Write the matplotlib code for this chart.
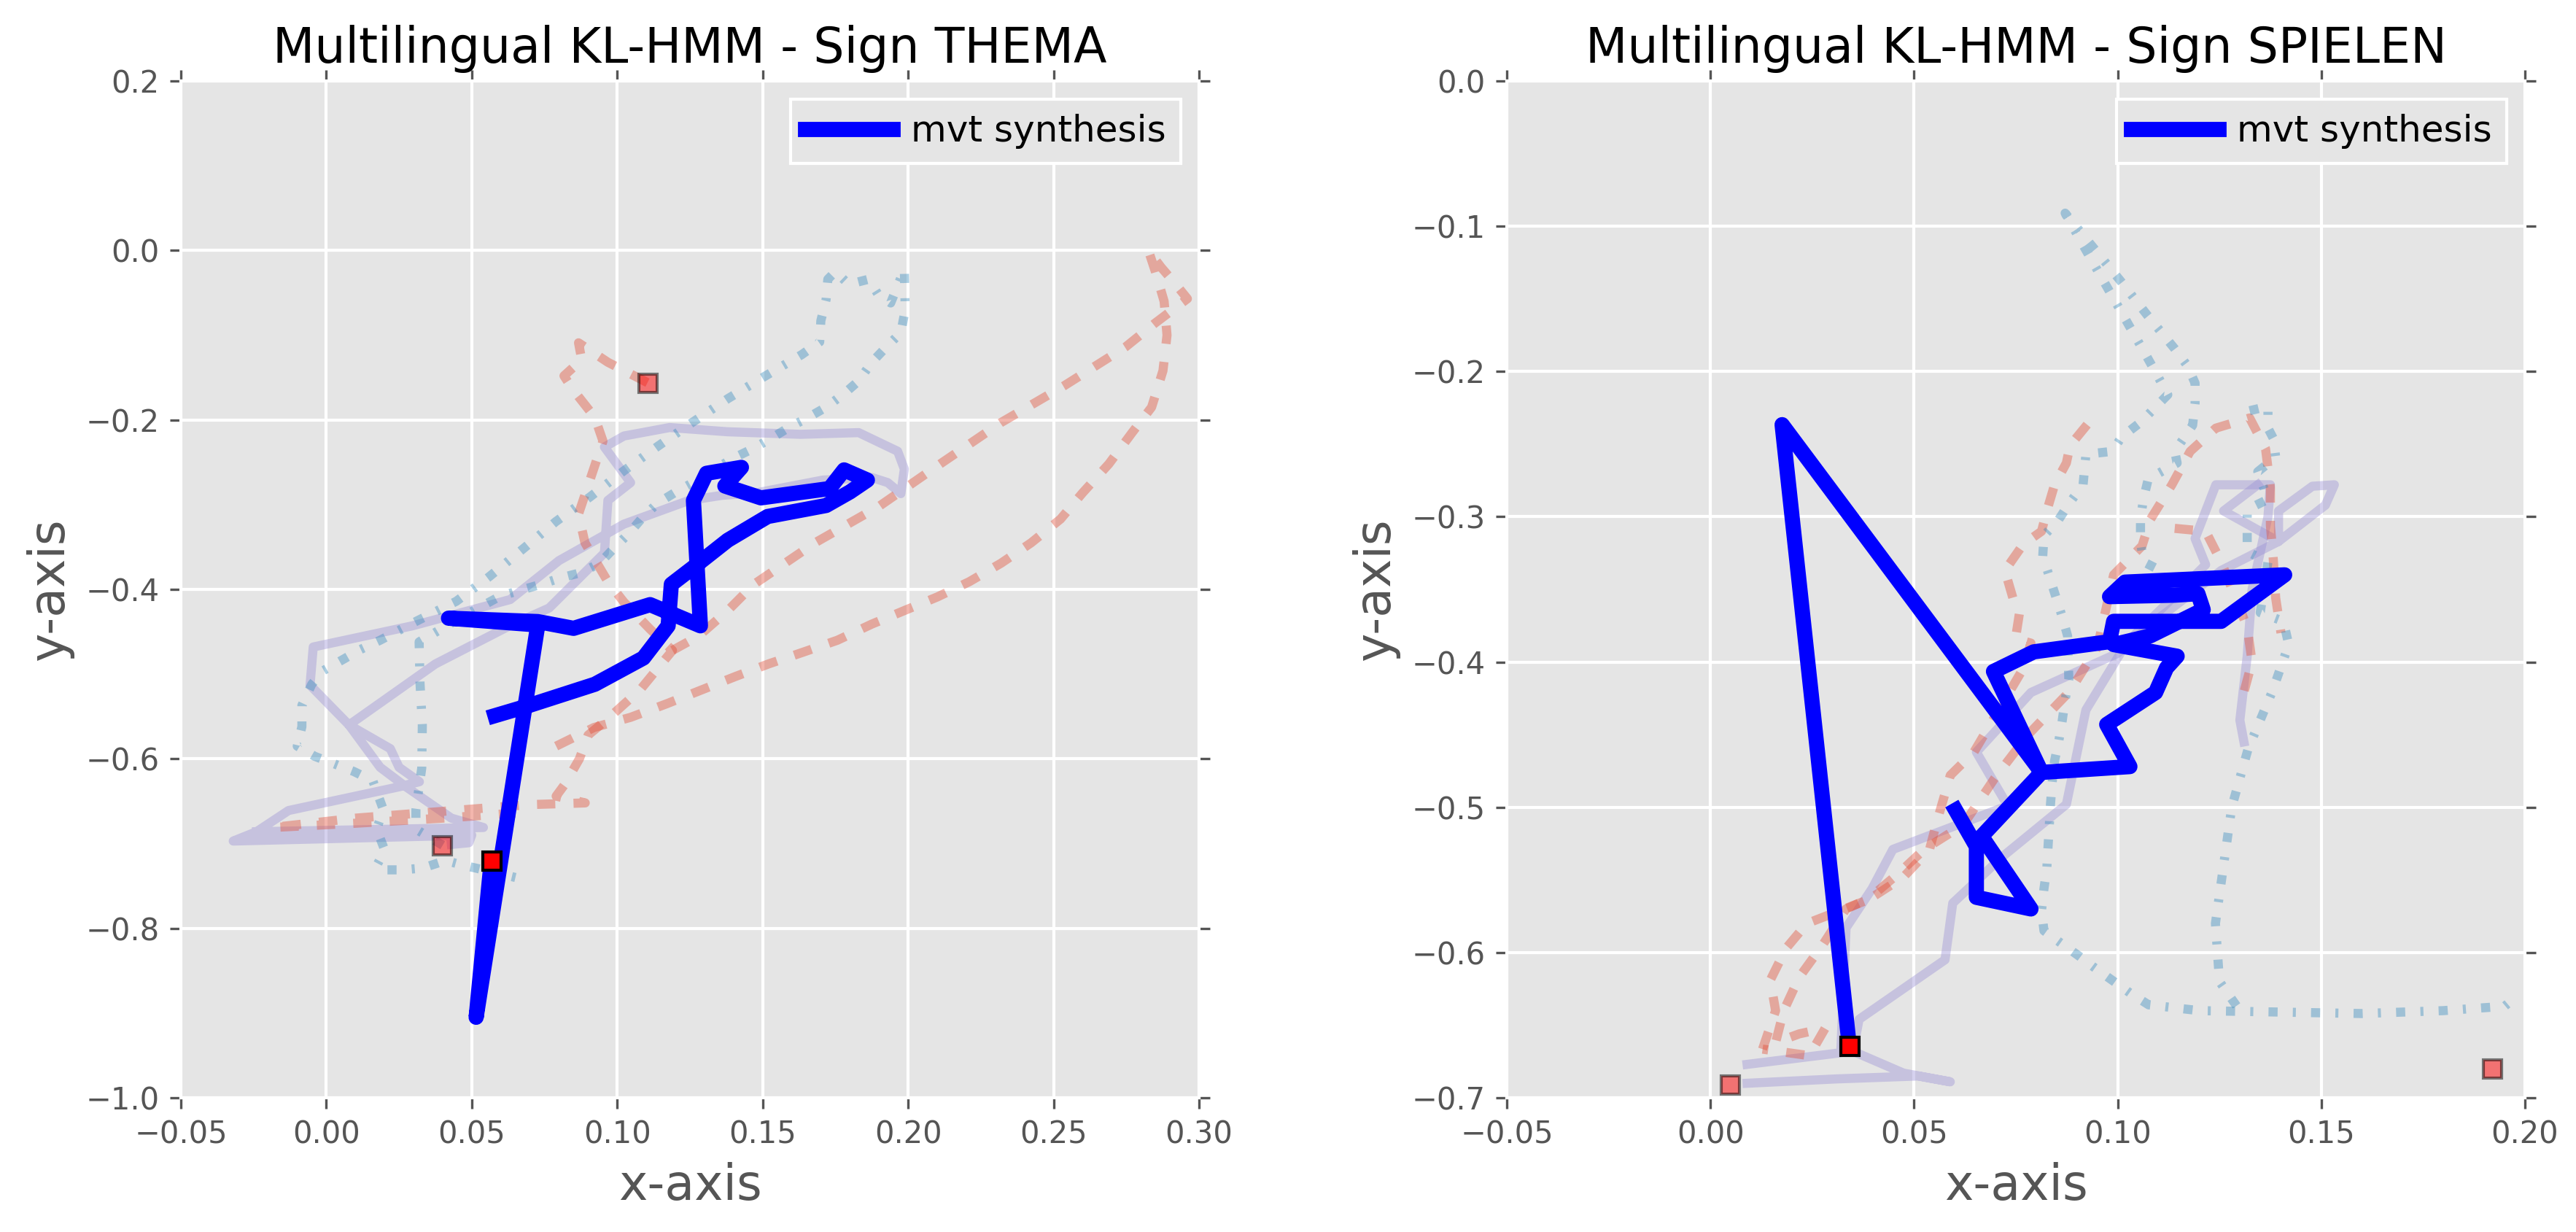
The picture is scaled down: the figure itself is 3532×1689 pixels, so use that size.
import numpy as np
import matplotlib
matplotlib.use("Agg")
import matplotlib.pyplot as plt

# ---------------- data : left panel (Sign THEMA) ----------------
L_syn_x = [0.0567, 0.0515, 0.0727, 0.0420, 0.0727, 0.0850, 0.1113, 0.1286, 0.1262, 0.1307,
           0.1427, 0.1370, 0.1494, 0.1730, 0.1780, 0.1860, 0.1800, 0.1718, 0.1517, 0.1380,
           0.1258, 0.1186, 0.1175, 0.1090, 0.0923, 0.0688, 0.0580]
L_syn_y = [-0.720, -0.905, -0.442, -0.434, -0.438, -0.446, -0.418, -0.443, -0.295, -0.263,
           -0.256, -0.278, -0.292, -0.281, -0.259, -0.271, -0.285, -0.301, -0.314, -0.342,
           -0.375, -0.394, -0.443, -0.481, -0.512, -0.538, -0.549]

L_red1_x = [0.1104, 0.0968, 0.0867, 0.0878, 0.0817, 0.0845, 0.0923, 0.0951, 0.0912, 0.0867,
            0.0889, 0.0968, 0.1023, 0.1113, 0.1190, 0.1080, 0.0970, 0.0900, 0.0870, 0.0820,
            0.0790, 0.0890, 0.0700, 0.0400, 0.0100, -0.0185, 0.0100, 0.0400, 0.0650]
L_red1_y = [-0.156, -0.132, -0.109, -0.129, -0.148, -0.163, -0.197, -0.225, -0.265, -0.311,
            -0.345, -0.391, -0.415, -0.447, -0.472, -0.518, -0.552, -0.572, -0.600, -0.630,
            -0.644, -0.652, -0.654, -0.662, -0.670, -0.681, -0.676, -0.670, -0.664]

L_red2_x = [0.0790, 0.0920, 0.1046, 0.1170, 0.1280, 0.1405, 0.1520, 0.1640, 0.1757, 0.1875,
            0.1987, 0.2100, 0.2210, 0.2320, 0.2423, 0.2524, 0.2600, 0.2690, 0.2770, 0.2837,
            0.2876, 0.2890, 0.2880, 0.2850, 0.2826, 0.2870, 0.2920, 0.2960, 0.2848, 0.2747,
            0.2535, 0.2320, 0.2110, 0.1900, 0.1680, 0.1470, 0.1380, 0.1280, 0.1190]
L_red2_y = [-0.585, -0.563, -0.551, -0.535, -0.520, -0.503, -0.488, -0.474, -0.460, -0.441,
            -0.425, -0.409, -0.391, -0.369, -0.345, -0.317, -0.286, -0.252, -0.215, -0.185,
            -0.142, -0.100, -0.060, -0.025, 0.000, -0.020, -0.040, -0.057, -0.086, -0.114,
            -0.160, -0.203, -0.252, -0.302, -0.345, -0.394, -0.425, -0.455, -0.472]

L_blue_x = [0.0400, 0.0308, 0.0308, 0.0328, 0.0330, 0.0322, 0.0319, 0.0453, 0.0598, 0.0738,
            0.0810, 0.0878, 0.0940, 0.0990, 0.1040, 0.1090, 0.1140, 0.1202, 0.1276, 0.1394,
            0.1466, 0.1528, 0.1590, 0.1657, 0.1718, 0.1780, 0.1830, 0.1875, 0.1925, 0.1975,
            0.1990, 0.1987, 0.1940, 0.1897, 0.1864, 0.1796, 0.1750, 0.1724, 0.1718, 0.1700,
            0.1696, 0.1634, 0.1510, 0.1380, 0.1258, 0.1140, 0.1023, 0.0906, 0.0789, 0.0677,
            0.0560, 0.0447, 0.0313, 0.0185, 0.0117, 0.0056, -0.0011, -0.0050, -0.0084, -0.0084,
            -0.0100, -0.0040, 0.0028, 0.0095, 0.0160, 0.0196, 0.0173, 0.0201, 0.0173, 0.0185,
            0.0257, 0.0330, 0.0410, 0.0475, 0.0515, 0.0650]
L_blue_y = [-0.702, -0.683, -0.660, -0.611, -0.560, -0.510, -0.462, -0.435, -0.408, -0.394,
            -0.386, -0.380, -0.369, -0.351, -0.334, -0.314, -0.298, -0.285, -0.271, -0.246,
            -0.234, -0.222, -0.209, -0.197, -0.185, -0.169, -0.154, -0.132, -0.114, -0.097,
            -0.070, -0.022, -0.062, -0.052, -0.034, -0.040, -0.025, -0.034, -0.058, -0.083,
            -0.108, -0.123, -0.148, -0.175, -0.203, -0.231, -0.260, -0.291, -0.320, -0.352,
            -0.385, -0.414, -0.437, -0.460, -0.471, -0.483, -0.496, -0.512, -0.537, -0.562,
            -0.585, -0.597, -0.606, -0.615, -0.626, -0.660, -0.683, -0.708, -0.726, -0.731,
            -0.731, -0.729, -0.720, -0.726, -0.729, -0.740]

L_purp_x = [0.0430, 0.0490, 0.0500, -0.0320, -0.0240, -0.0130, 0.0250, 0.0320, 0.0250, 0.0220,
            0.0078, -0.0056, -0.0045, 0.0296, 0.0632, 0.0800, 0.1023, 0.1247, 0.1360, 0.1480,
            0.1707, 0.1875, 0.1930, 0.1975, 0.1987, 0.1964, 0.1830, 0.1630, 0.1380, 0.1180,
            0.1023, 0.0956, 0.1046, 0.0968, 0.0956, 0.0766, 0.0630, 0.0375, 0.0078, 0.0185,
            0.0274, 0.0430, 0.0540, -0.0240]
L_purp_y = [-0.701, -0.699, -0.690, -0.697, -0.686, -0.661, -0.633, -0.627, -0.610, -0.588,
            -0.560, -0.513, -0.468, -0.443, -0.412, -0.366, -0.323, -0.295, -0.289, -0.286,
            -0.271, -0.268, -0.274, -0.287, -0.258, -0.237, -0.215, -0.217, -0.214, -0.209,
            -0.219, -0.232, -0.274, -0.295, -0.357, -0.422, -0.443, -0.488, -0.560, -0.610,
            -0.633, -0.670, -0.681, -0.686]

L_start_x = [0.0567]
L_start_y = [-0.720]
L_ref_start_x = [0.1104, 0.0397]
L_ref_start_y = [-0.156, -0.702]

L_xticks = [-0.05, 0.00, 0.05, 0.10, 0.15, 0.20, 0.25, 0.30]
L_yticks = [-1.0, -0.8, -0.6, -0.4, -0.2, 0.0, 0.2]

# ---------------- data : right panel (Sign SPIELEN) ----------------
R_syn_x = [0.0341, 0.0176, 0.0813, 0.0695, 0.0794, 0.0980, 0.0990, 0.1254, 0.1410, 0.1018,
           0.0980, 0.1140, 0.1197, 0.1210, 0.1080, 0.0990, 0.1146, 0.1120, 0.1093, 0.0973,
           0.1030, 0.0813, 0.0666, 0.0787, 0.0653, 0.0653, 0.0602]
R_syn_y = [-0.6645, -0.2366, -0.476, -0.4065, -0.393, -0.386, -0.372, -0.372, -0.340, -0.345,
           -0.355, -0.354, -0.353, -0.364, -0.382, -0.388, -0.396, -0.404, -0.421, -0.443,
           -0.472, -0.476, -0.520, -0.570, -0.562, -0.527, -0.502]

R_red1_x = [0.0925, 0.0883, 0.0874, 0.0845, 0.0826, 0.0813, 0.0768, 0.0723, 0.0749, 0.0759,
            0.0749, 0.0787, 0.0768, 0.0647, 0.0589, 0.0557, 0.0538, 0.0474, 0.0397, 0.0333,
            0.0275, 0.0218, 0.0180, 0.0160, 0.0218, 0.0282, 0.0243, 0.0128]
R_red1_y = [-0.2366, -0.251, -0.263, -0.278, -0.296, -0.310, -0.319, -0.337, -0.362, -0.366,
            -0.384, -0.387, -0.4045, -0.462, -0.478, -0.509, -0.529, -0.548, -0.562, -0.570,
            -0.595, -0.617, -0.640, -0.662, -0.656, -0.652, -0.671, -0.6665]

R_red2_x = [0.0128, 0.0160, 0.0147, 0.0186, 0.0237, 0.0384, 0.0460, 0.0525, 0.0621, 0.0698,
            0.0780, 0.0883, 0.0950, 0.0990, 0.1060, 0.1080, 0.1133, 0.1178, 0.1241, 0.1324,
            0.1363, 0.1375, 0.1375, 0.1382, 0.1388, 0.1401]
R_red2_y = [-0.6665, -0.640, -0.619, -0.597, -0.580, -0.564, -0.546, -0.529, -0.512, -0.480,
            -0.450, -0.420, -0.390, -0.340, -0.320, -0.302, -0.278, -0.255, -0.239, -0.232,
            -0.253, -0.280, -0.306, -0.329, -0.356, -0.380]

R_red3_x = [0.1140, 0.1216, 0.1254, 0.1318, 0.1330, 0.1300]
R_red3_y = [-0.308, -0.310, -0.331, -0.376, -0.400, -0.431]

R_blue1_x = [0.1091, 0.1063, 0.1056, 0.1056, 0.1063, 0.1075, 0.1146, 0.1140, 0.1184, 0.1190,
             0.1190, 0.1171, 0.1139, 0.1072, 0.1008, 0.0941, 0.0871, 0.0915, 0.0970, 0.1021,
             0.1072, 0.1098, 0.1123, 0.1056, 0.1010, 0.0986, 0.0922, 0.0915, 0.0883, 0.0855,
             0.0819, 0.0816, 0.0832, 0.0848, 0.0864, 0.0877, 0.0880, 0.0871, 0.0864, 0.0855,
             0.0845, 0.0839, 0.0835, 0.0832, 0.0829, 0.0826, 0.0819, 0.0813, 0.0819, 0.0858,
             0.0903, 0.0941, 0.0986, 0.1031, 0.1076, 0.1200, 0.1400, 0.1600, 0.1800, 0.1950,
             0.1980]
R_blue1_y = [-0.335, -0.331, -0.317, -0.302, -0.288, -0.274, -0.263, -0.255, -0.237, -0.222,
             -0.208, -0.196, -0.184, -0.161, -0.138, -0.115, -0.091, -0.113, -0.140, -0.165,
             -0.190, -0.203, -0.216, -0.235, -0.245, -0.255, -0.257, -0.278, -0.290, -0.302,
             -0.313, -0.327, -0.341, -0.355, -0.369, -0.382, -0.412, -0.426, -0.440, -0.455,
             -0.468, -0.483, -0.498, -0.513, -0.527, -0.542, -0.556, -0.571, -0.585, -0.593,
             -0.602, -0.610, -0.619, -0.628, -0.636, -0.640, -0.641, -0.642, -0.640, -0.637,
             -0.630]

R_blue2_x = [0.1324, 0.1369, 0.1369, 0.1382, 0.1388, 0.1344, 0.1369, 0.1318, 0.1318, 0.1318,
             0.1369, 0.1350, 0.1407, 0.1420, 0.1380, 0.1320, 0.1280, 0.1260, 0.1240, 0.1250,
             0.1300]
R_blue2_y = [-0.227, -0.224, -0.239, -0.246, -0.259, -0.269, -0.288, -0.295, -0.309, -0.324,
             -0.331, -0.366, -0.372, -0.388, -0.420, -0.460, -0.500, -0.540, -0.580, -0.620,
             -0.640]

R_purp1_x = [0.0090, 0.0310, 0.0510, 0.0589, 0.0474, 0.0350, 0.0365, 0.0576, 0.0595, 0.0717,
             0.0874, 0.0922, 0.1024, 0.1120, 0.1216, 0.1190, 0.1241, 0.1375, 0.1369, 0.1330,
             0.1318, 0.1300, 0.1310]
R_purp1_y = [-0.690, -0.687, -0.685, -0.689, -0.683, -0.668, -0.646, -0.605, -0.566, -0.534,
             -0.498, -0.433, -0.386, -0.360, -0.333, -0.315, -0.278, -0.278, -0.300, -0.350,
             -0.396, -0.440, -0.455]

R_purp2_x = [0.0090, 0.0320, 0.0333, 0.0397, 0.0448, 0.0730, 0.0653, 0.0787, 0.1000, 0.1100,
             0.1254, 0.1395, 0.1395, 0.1478, 0.1532, 0.1510, 0.1395, 0.1260, 0.1344]
R_purp2_y = [-0.677, -0.669, -0.583, -0.556, -0.529, -0.499, -0.462, -0.421, -0.394, -0.370,
             -0.337, -0.317, -0.296, -0.279, -0.278, -0.292, -0.317, -0.296, -0.278]

R_start_x = [0.0341]
R_start_y = [-0.6645]
R_ref_start_x = [0.0048, 0.1920]
R_ref_start_y = [-0.691, -0.680]

R_xticks = [-0.05, 0.00, 0.05, 0.10, 0.15, 0.20]
R_yticks = [-0.7, -0.6, -0.5, -0.4, -0.3, -0.2, -0.1, 0.0]

# ---------------- style ----------------
plt.style.use("ggplot")
plt.rcParams.update({
    "font.family": ["DejaVu Sans"],
    "font.size": 10,
    "xtick.top": True, "ytick.right": True,
    "xtick.direction": "out", "ytick.direction": "out",
    "xtick.color": "#555555", "ytick.color": "#555555",
    "xtick.labelcolor": "#555555", "ytick.labelcolor": "#555555",
    "xtick.labelsize": 10, "ytick.labelsize": 10,
    "lines.scale_dashes": False,
    "grid.linewidth": 1.0,
})

PURPLE = "#988ED5"
RED = "#E24A33"
BLUE = "#348ABD"

W, H = 3532, 1689
fig = plt.figure(figsize=(W / 300, H / 300), dpi=300)
ax1 = fig.add_axes([248 / W, (H - 1505) / H, 1396 / W, 1394 / H])
ax2 = fig.add_axes([2066 / W, (H - 1505) / H, 1396 / W, 1394 / H])


def draw(ax, syn, reds, blues, purps, start, refs, xlim, ylim, xt, yt, title):
    for px, py in purps:
        ax.plot(px, py, color=PURPLE, lw=3, alpha=0.4, solid_joinstyle="round")
    for rx, ry in reds:
        ax.plot(rx, ry, color=RED, lw=3, alpha=0.4, dashes=(6, 6))
    for bx, by in blues:
        ax.plot(bx, by, color=BLUE, lw=3, alpha=0.4, dashes=(3, 5, 1, 5))
    ax.plot(syn[0], syn[1], color="blue", lw=5, label="mvt synthesis", zorder=5)
    ax.plot(refs[0], refs[1], "s", color="red", ms=6, mec="black", mew=1, alpha=0.5, zorder=6)
    ax.plot(start[0], start[1], "s", color="red", ms=6, mec="black", mew=1, zorder=7)
    ax.set_xlim(*xlim)
    ax.set_ylim(*ylim)
    ax.set_xticks(xt)
    ax.set_yticks(yt)
    ax.set_title(title, fontsize=16, color="black")
    ax.set_xlabel("x-axis", fontsize=16, color="#555555")
    ax.set_ylabel("y-axis", fontsize=16, color="#555555")
    leg = ax.legend(loc="upper right", fontsize=12, handlelength=2.4, handletextpad=0.5,
                    borderpad=0.4, fancybox=False, framealpha=1.0)
    leg.get_frame().set_facecolor("#E5E5E5")
    leg.get_frame().set_edgecolor("white")
    leg.get_frame().set_linewidth(1.0)


draw(ax1, (L_syn_x, L_syn_y),
     [(L_red1_x, L_red1_y), (L_red2_x, L_red2_y)],
     [(L_blue_x, L_blue_y)],
     [(L_purp_x, L_purp_y)],
     (L_start_x, L_start_y), (L_ref_start_x, L_ref_start_y),
     (-0.05, 0.30), (-1.0, 0.2), L_xticks, L_yticks,
     "Multilingual KL-HMM - Sign THEMA")

draw(ax2, (R_syn_x, R_syn_y),
     [(R_red1_x, R_red1_y), (R_red2_x, R_red2_y), (R_red3_x, R_red3_y)],
     [(R_blue1_x, R_blue1_y), (R_blue2_x, R_blue2_y)],
     [(R_purp1_x, R_purp1_y), (R_purp2_x, R_purp2_y)],
     (R_start_x, R_start_y), (R_ref_start_x, R_ref_start_y),
     (-0.05, 0.20), (-0.7, 0.0), R_xticks, R_yticks,
     "Multilingual KL-HMM - Sign SPIELEN")

fig.savefig("out.png", dpi=300)
